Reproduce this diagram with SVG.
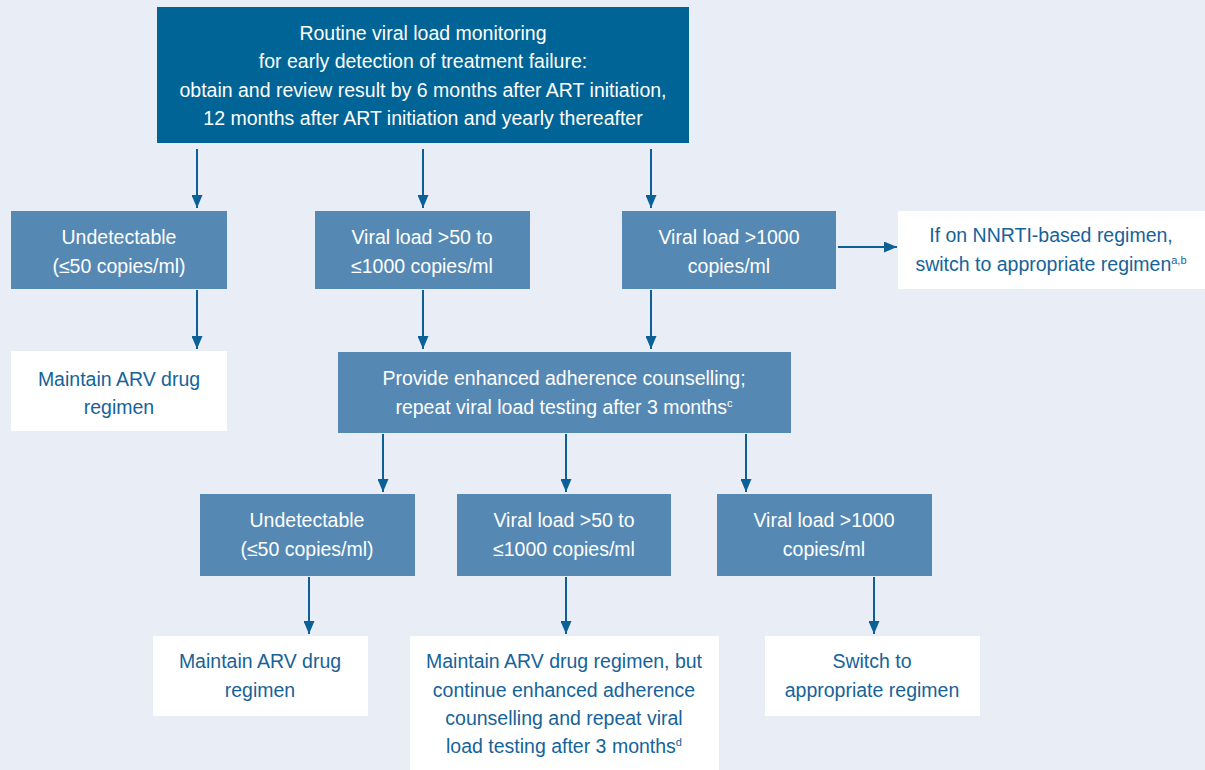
<svg xmlns="http://www.w3.org/2000/svg" width="1205" height="770" viewBox="0 0 1205 770">
<defs>
<style>
.t{font-family:"Liberation Sans Narrow","Arial Narrow","Liberation Sans",sans-serif;font-size:19.5px;text-anchor:middle}
.w{fill:#ffffff}
.b{fill:#16639a}
.top{fill:#006496}
.mid{fill:#5589b4}
.wh{fill:#ffffff}
.c line{stroke:#0b6195;stroke-width:2;marker-end:url(#ah)}
.sup{font-size:11px}
</style>
<marker id="ah" viewBox="0 0 10 10" refX="10" refY="5" markerWidth="13" markerHeight="11" markerUnits="userSpaceOnUse" orient="auto" preserveAspectRatio="none">
<path d="M0,0 L10,5 L0,10 z" fill="#0b6195"/>
</marker>
</defs>
<rect width="1205" height="770" fill="#e8edf6"/>
<g id="top">
<rect class="top" x="157" y="7" width="532" height="136"/>
<text class="t w" x="423" y="40">Routine viral load monitoring</text>
<text class="t w" x="423" y="68">for early detection of treatment failure:</text>
<text class="t w" x="423" y="97">obtain and review result by 6 months after ART initiation,</text>
<text class="t w" x="423" y="125">12 months after ART initiation and yearly thereafter</text>
</g>
<g id="undet1">
<rect class="mid" x="11" y="211" width="216" height="78"/>
<text class="t w" x="119" y="244">Undetectable</text>
<text class="t w" x="119" y="273">(≤50 copies/ml)</text>
</g>
<g id="vl50a">
<rect class="mid" x="315" y="211" width="215" height="78"/>
<text class="t w" x="422" y="244">Viral load &gt;50 to</text>
<text class="t w" x="422" y="273">≤1000 copies/ml</text>
</g>
<g id="vl1000a">
<rect class="mid" x="622" y="211" width="214" height="78"/>
<text class="t w" x="729" y="244">Viral load &gt;1000</text>
<text class="t w" x="729" y="273">copies/ml</text>
</g>
<g id="nnrti">
<rect class="wh" x="898" y="211" width="307" height="78"/>
<text class="t b" x="1051" y="242">If on NNRTI-based regimen,</text>
<text class="t b" x="1051" y="271">switch to appropriate regimen<tspan class="sup" dy="-7">a,b</tspan></text>
</g>
<g id="maintain1">
<rect class="wh" x="11" y="351" width="216" height="80"/>
<text class="t b" x="119" y="386">Maintain ARV drug</text>
<text class="t b" x="119" y="414">regimen</text>
</g>
<g id="eac">
<rect class="mid" x="338" y="352" width="453" height="81"/>
<text class="t w" x="564" y="385">Provide enhanced adherence counselling;</text>
<text class="t w" x="564" y="414">repeat viral load testing after 3 months<tspan class="sup" dy="-7">c</tspan></text>
</g>
<g id="undet2">
<rect class="mid" x="200" y="494" width="215" height="82"/>
<text class="t w" x="307" y="527">Undetectable</text>
<text class="t w" x="307" y="556">(≤50 copies/ml)</text>
</g>
<g id="vl50b">
<rect class="mid" x="457" y="494" width="214" height="82"/>
<text class="t w" x="564" y="527">Viral load &gt;50 to</text>
<text class="t w" x="564" y="556">≤1000 copies/ml</text>
</g>
<g id="vl1000b">
<rect class="mid" x="717" y="494" width="215" height="82"/>
<text class="t w" x="824" y="527">Viral load &gt;1000</text>
<text class="t w" x="824" y="556">copies/ml</text>
</g>
<g id="maintain2">
<rect class="wh" x="153" y="636" width="215" height="80"/>
<text class="t b" x="260" y="668">Maintain ARV drug</text>
<text class="t b" x="260" y="697">regimen</text>
</g>
<g id="maintain3">
<rect class="wh" x="410" y="636" width="309" height="134"/>
<text class="t b" x="564" y="668">Maintain ARV drug regimen, but</text>
<text class="t b" x="564" y="697">continue enhanced adherence</text>
<text class="t b" x="564" y="725">counselling and repeat viral</text>
<text class="t b" x="564" y="753">load testing after 3 months<tspan class="sup" dy="-7">d</tspan></text>
</g>
<g id="switch">
<rect class="wh" x="765" y="636" width="215" height="80"/>
<text class="t b" x="872" y="668">Switch to</text>
<text class="t b" x="872" y="697">appropriate regimen</text>
</g>
<g id="connectors" class="c">
<line x1="197" y1="149" x2="197" y2="208"/>
<line x1="423" y1="149" x2="423" y2="208"/>
<line x1="651" y1="149" x2="651" y2="208"/>
<line x1="838" y1="247" x2="897" y2="247"/>
<line x1="197" y1="290" x2="197" y2="349"/>
<line x1="423" y1="290" x2="423" y2="349"/>
<line x1="651" y1="290" x2="651" y2="349"/>
<line x1="383" y1="434" x2="383" y2="492"/>
<line x1="566" y1="434" x2="566" y2="492"/>
<line x1="746" y1="434" x2="746" y2="492"/>
<line x1="309" y1="577" x2="309" y2="634"/>
<line x1="566" y1="577" x2="566" y2="634"/>
<line x1="874" y1="577" x2="874" y2="634"/>
</g>
</svg>
